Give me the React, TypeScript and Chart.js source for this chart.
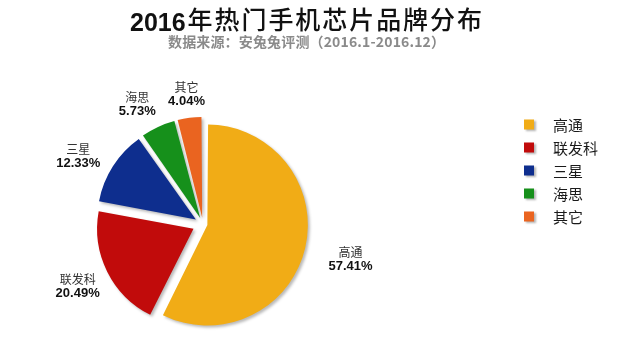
import { useEffect, useRef } from 'react';
import { Chart, registerables } from 'chart.js';

Chart.register(...registerables);

// ---- data ----
const brands = ['高通', '联发科', '三星', '海思', '其它'];
const shares = [57.41, 20.49, 12.33, 5.73, 4.04];
const titleYear = '2016';
const titleRest = '年热门手机芯片品牌分布';
const subtitleText = '数据来源：安兔兔评测（2016.1-2016.12）';

// ---- styles ----
const COLORS = ['#F1AC16', '#C10B0B', '#0E2E8E', '#16901B', '#EA6420'];
const SLICE_PULL = [9, 11, 11, 11, 11];
const LABEL_GAP = [22, 7, 9, 8, 7];
const CJK = '"Noto Sans CJK SC", sans-serif';
const LATIN = '"Liberation Sans", Arial, "Noto Sans CJK SC", sans-serif';

function drawSpread(ctx: CanvasRenderingContext2D, text: string, x0: number, x1: number, y: number) {
  const chars = Array.from(text);
  const ws = chars.map((c) => ctx.measureText(c).width);
  const total = ws.reduce((a, b) => a + b, 0);
  const extra = chars.length > 1 ? (x1 - x0 - total) / (chars.length - 1) : 0;
  let x = x0;
  chars.forEach((c, i) => {
    ctx.fillText(c, x, y);
    x += ws[i] + extra;
  });
}

const decorPlugin = {
  id: 'decor',
  beforeDatasetsDraw(chart: any) {
    const ctx = chart.ctx as CanvasRenderingContext2D;
    ctx.save();
    ctx.shadowColor = 'rgba(0,0,0,0.28)';
    ctx.shadowBlur = 3;
    ctx.shadowOffsetX = 2;
    ctx.shadowOffsetY = 2;
  },
  afterDatasetsDraw(chart: any) {
    const ctx = chart.ctx as CanvasRenderingContext2D;
    ctx.restore();
    ctx.save();
    const meta = chart.getDatasetMeta(0);
    const data = chart.data.datasets[0].data as number[];
    meta.data.forEach((arc: any, i: number) => {
      const p = arc.getProps(['x', 'y', 'startAngle', 'endAngle', 'outerRadius', 'circumference'], true);
      const off = (arc.options.offset || 0) / 4;
      const fix = 1 - Math.sin(Math.min(Math.PI, p.circumference));
      const d = off + off * fix;
      const mid = (p.startAngle + p.endAngle) / 2 - (i === 2 || i === 3 ? 0.07 : 0);
      const ux = Math.cos(mid);
      const uy = Math.sin(mid);
      const name = chart.data.labels[i] as string;
      const pct = data[i].toFixed(2) + '%';
      ctx.font = `12px ${CJK}`;
      const nw = ctx.measureText(name).width;
      ctx.font = `bold 13px ${LATIN}`;
      const pw = ctx.measureText(pct).width;
      const hw = Math.max(nw, pw) / 2;
      const hh = 14;
      const dist = p.outerRadius + d + LABEL_GAP[i] + Math.abs(ux) * hw + Math.abs(uy) * hh;
      const cx = p.x + ux * dist;
      const cy = p.y + uy * dist;
      ctx.textAlign = 'center';
      ctx.textBaseline = 'middle';
      ctx.fillStyle = '#333333';
      ctx.font = `12px ${CJK}`;
      ctx.fillText(name, cx, cy - 7);
      ctx.fillStyle = '#111111';
      ctx.font = `bold 13px ${LATIN}`;
      ctx.fillText(pct, cx, cy + 7);
    });
    ctx.restore();
  },
  afterDraw(chart: any) {
    const ctx = chart.ctx as CanvasRenderingContext2D;
    ctx.save();
    // title
    ctx.fillStyle = '#111111';
    ctx.textBaseline = 'alphabetic';
    ctx.textAlign = 'left';
    ctx.font = `bold 25px ${LATIN}`;
    ctx.fillText(titleYear, 130, 31);
    const yw = ctx.measureText(titleYear).width;
    ctx.font = `500 25px ${CJK}`;
    drawSpread(ctx, titleRest, 130 + yw + 2, 482, 29);
    // subtitle
    ctx.fillStyle = '#8a8a8a';
    ctx.font = `bold 14px ${CJK}`;
    drawSpread(ctx, subtitleText, 168, 445, 47);
    // legend
    const labels = chart.data.labels as string[];
    const colors = chart.data.datasets[0].backgroundColor as string[];
    labels.forEach((lab, i) => {
      const y = 124.5 + i * 23;
      ctx.save();
      ctx.shadowColor = 'rgba(0,0,0,0.3)';
      ctx.shadowBlur = 2;
      ctx.shadowOffsetX = 1.5;
      ctx.shadowOffsetY = 1.5;
      ctx.fillStyle = colors[i];
      ctx.fillRect(524, y - 5, 10, 10);
      ctx.restore();
      ctx.fillStyle = '#1a1a1a';
      ctx.font = `15px ${CJK}`;
      ctx.textBaseline = 'middle';
      ctx.fillText(lab, 553, y + 1);
    });
    ctx.restore();
  },
};

export default function App() {
  const ref = useRef<HTMLCanvasElement>(null);
  useEffect(() => {
    if (!ref.current) return;
    const chart = new Chart(ref.current, {
      type: 'pie',
      data: {
        labels: brands,
        datasets: [
          {
            data: shares,
            backgroundColor: COLORS,
            borderWidth: 0,
            clip: false as any,
            offset: (c: any) => {
              if (c.type !== 'data') return 0;
              const vals = c.dataset.data as number[];
              const total = vals.reduce((a: number, b: number) => a + b, 0);
              const circ = (vals[c.dataIndex] / total) * Math.PI * 2;
              const fix = 1 - Math.sin(Math.min(Math.PI, circ));
              return (4 * SLICE_PULL[c.dataIndex]) / (1 + fix);
            },
          } as any,
        ],
      },
      options: {
        responsive: false,
        animation: false,
        radius: 96,
        layout: { padding: { left: 80, right: 298, top: 100, bottom: 4 } },
        plugins: {
          legend: { display: false },
          title: { display: false },
          tooltip: { enabled: false },
        },
      } as any,
      plugins: [decorPlugin],
    });
    return () => chart.destroy();
  }, []);
  return (
    <div style={{ position: 'fixed', left: 0, top: 0, width: 624, height: 352, background: '#ffffff' }}>
      <canvas ref={ref} width={624} height={352} style={{ display: 'block' }} />
    </div>
  );
}
